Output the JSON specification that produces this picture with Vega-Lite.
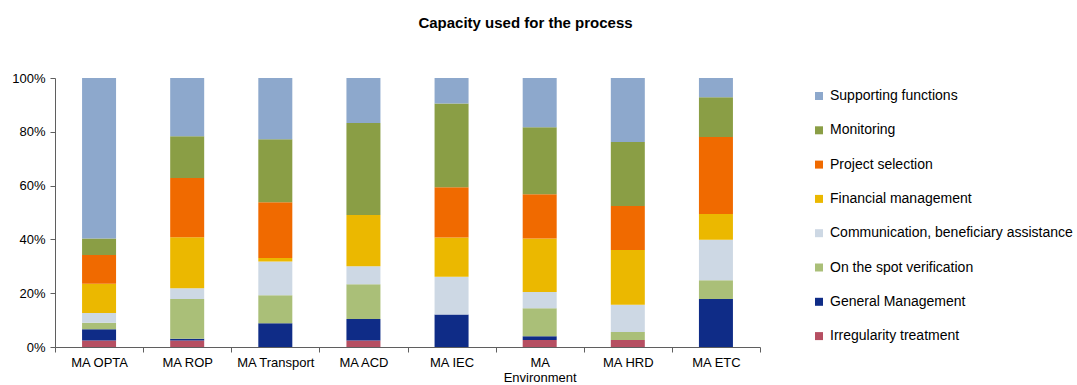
{
  "$schema": "https://vega.github.io/schema/vega-lite/v6.json",
  "autosize": "none",
  "width": 705,
  "height": 269,
  "padding": {"left": 55, "top": 78, "right": 317, "bottom": 38},
  "background": "white",
  "config": {
    "font": "Liberation Sans",
    "view": {"stroke": null},
    "axis": {"labelFont": "Liberation Sans", "labelFontSize": 13, "labelColor": "#000000", "domainColor": "#5f5f5f", "tickColor": "#5f5f5f", "grid": false, "title": null}
  },
  "title": {
    "text": "Capacity used for the process",
    "font": "Liberation Sans",
    "fontSize": 15,
    "fontWeight": "bold",
    "color": "#000000",
    "anchor": "middle",
    "frame": "group",
    "dx": 118,
    "offset": 41
  },
  "data": {
    "values": [
      {"ma": "MA OPTA", "process": "Irregularity treatment", "share": 2.4},
      {"ma": "MA OPTA", "process": "General Management", "share": 4.2},
      {"ma": "MA OPTA", "process": "On the spot verification", "share": 2.4},
      {"ma": "MA OPTA", "process": "Communication, beneficiary assistance", "share": 3.6},
      {"ma": "MA OPTA", "process": "Financial management", "share": 10.9},
      {"ma": "MA OPTA", "process": "Project selection", "share": 10.7},
      {"ma": "MA OPTA", "process": "Monitoring", "share": 6.1},
      {"ma": "MA OPTA", "process": "Supporting functions", "share": 59.7},
      {"ma": "MA ROP", "process": "Irregularity treatment", "share": 2.4},
      {"ma": "MA ROP", "process": "General Management", "share": 0.7},
      {"ma": "MA ROP", "process": "On the spot verification", "share": 14.7},
      {"ma": "MA ROP", "process": "Communication, beneficiary assistance", "share": 4.0},
      {"ma": "MA ROP", "process": "Financial management", "share": 19.0},
      {"ma": "MA ROP", "process": "Project selection", "share": 22.0},
      {"ma": "MA ROP", "process": "Monitoring", "share": 15.5},
      {"ma": "MA ROP", "process": "Supporting functions", "share": 21.7},
      {"ma": "MA Transport", "process": "Irregularity treatment", "share": 0},
      {"ma": "MA Transport", "process": "General Management", "share": 8.8},
      {"ma": "MA Transport", "process": "On the spot verification", "share": 10.4},
      {"ma": "MA Transport", "process": "Communication, beneficiary assistance", "share": 12.6},
      {"ma": "MA Transport", "process": "Financial management", "share": 1.3},
      {"ma": "MA Transport", "process": "Project selection", "share": 20.7},
      {"ma": "MA Transport", "process": "Monitoring", "share": 23.4},
      {"ma": "MA Transport", "process": "Supporting functions", "share": 22.8},
      {"ma": "MA ACD", "process": "Irregularity treatment", "share": 2.4},
      {"ma": "MA ACD", "process": "General Management", "share": 8.0},
      {"ma": "MA ACD", "process": "On the spot verification", "share": 12.9},
      {"ma": "MA ACD", "process": "Communication, beneficiary assistance", "share": 6.7},
      {"ma": "MA ACD", "process": "Financial management", "share": 19.1},
      {"ma": "MA ACD", "process": "Project selection", "share": 0},
      {"ma": "MA ACD", "process": "Monitoring", "share": 34.2},
      {"ma": "MA ACD", "process": "Supporting functions", "share": 16.7},
      {"ma": "MA IEC", "process": "Irregularity treatment", "share": 0},
      {"ma": "MA IEC", "process": "General Management", "share": 12.1},
      {"ma": "MA IEC", "process": "On the spot verification", "share": 0},
      {"ma": "MA IEC", "process": "Communication, beneficiary assistance", "share": 14.0},
      {"ma": "MA IEC", "process": "Financial management", "share": 14.6},
      {"ma": "MA IEC", "process": "Project selection", "share": 18.7},
      {"ma": "MA IEC", "process": "Monitoring", "share": 31.1},
      {"ma": "MA IEC", "process": "Supporting functions", "share": 9.5},
      {"ma": "MA Environment", "process": "Irregularity treatment", "share": 2.6},
      {"ma": "MA Environment", "process": "General Management", "share": 1.4},
      {"ma": "MA Environment", "process": "On the spot verification", "share": 10.4},
      {"ma": "MA Environment", "process": "Communication, beneficiary assistance", "share": 6.0},
      {"ma": "MA Environment", "process": "Financial management", "share": 19.9},
      {"ma": "MA Environment", "process": "Project selection", "share": 16.5},
      {"ma": "MA Environment", "process": "Monitoring", "share": 24.9},
      {"ma": "MA Environment", "process": "Supporting functions", "share": 18.3},
      {"ma": "MA HRD", "process": "Irregularity treatment", "share": 2.6},
      {"ma": "MA HRD", "process": "General Management", "share": 0},
      {"ma": "MA HRD", "process": "On the spot verification", "share": 3.0},
      {"ma": "MA HRD", "process": "Communication, beneficiary assistance", "share": 10.1},
      {"ma": "MA HRD", "process": "Financial management", "share": 20.4},
      {"ma": "MA HRD", "process": "Project selection", "share": 16.3},
      {"ma": "MA HRD", "process": "Monitoring", "share": 23.8},
      {"ma": "MA HRD", "process": "Supporting functions", "share": 23.8},
      {"ma": "MA ETC", "process": "Irregularity treatment", "share": 0},
      {"ma": "MA ETC", "process": "General Management", "share": 17.8},
      {"ma": "MA ETC", "process": "On the spot verification", "share": 7.0},
      {"ma": "MA ETC", "process": "Communication, beneficiary assistance", "share": 15.1},
      {"ma": "MA ETC", "process": "Financial management", "share": 9.5},
      {"ma": "MA ETC", "process": "Project selection", "share": 28.7},
      {"ma": "MA ETC", "process": "Monitoring", "share": 14.7},
      {"ma": "MA ETC", "process": "Supporting functions", "share": 7.2}
    ]
  },
  "transform": [
    {"calculate": "indexof(['Supporting functions','Monitoring','Project selection','Financial management','Communication, beneficiary assistance','On the spot verification','General Management','Irregularity treatment'], datum.process)", "as": "k"}
  ],
  "mark": {"type": "bar", "size": 34},
  "encoding": {
    "x": {
      "field": "ma",
      "type": "nominal",
      "sort": null,
      "scale": {"paddingInner": 0, "paddingOuter": 0},
      "axis": {
        "labelAngle": 0,
        "tickBand": "extent",
        "tickSize": 5,
        "labelPadding": 4,
        "labelExpr": "datum.value == 'MA Environment' ? ['MA', 'Environment'] : datum.value"
      }
    },
    "y": {
      "field": "share",
      "type": "quantitative",
      "stack": "normalize",
      "scale": {"domain": [0, 1]},
      "axis": {"values": [0, 0.2, 0.4, 0.6, 0.8, 1], "format": ".0%", "tickSize": 5, "labelPadding": 5}
    },
    "color": {
      "field": "process",
      "type": "nominal",
      "scale": {
        "domain": ["Supporting functions", "Monitoring", "Project selection", "Financial management", "Communication, beneficiary assistance", "On the spot verification", "General Management", "Irregularity treatment"],
        "range": ["#8DA8CC", "#8A9E45", "#F06A00", "#EBB800", "#CDD8E4", "#AABF78", "#0F2C87", "#B64F62"]
      },
      "legend": {
        "title": null,
        "orient": "none",
        "legendX": 757,
        "legendY": 11,
        "padding": 0,
        "symbolType": "square",
        "symbolSize": 64,
        "symbolStrokeWidth": 0,
        "labelFont": "Liberation Sans",
        "labelFontSize": 14,
        "labelColor": "#000000",
        "labelOffset": 4,
        "rowPadding": 20.3,
        "labelLimit": 300
      }
    },
    "order": {"field": "k", "sort": "descending"}
  }
}
